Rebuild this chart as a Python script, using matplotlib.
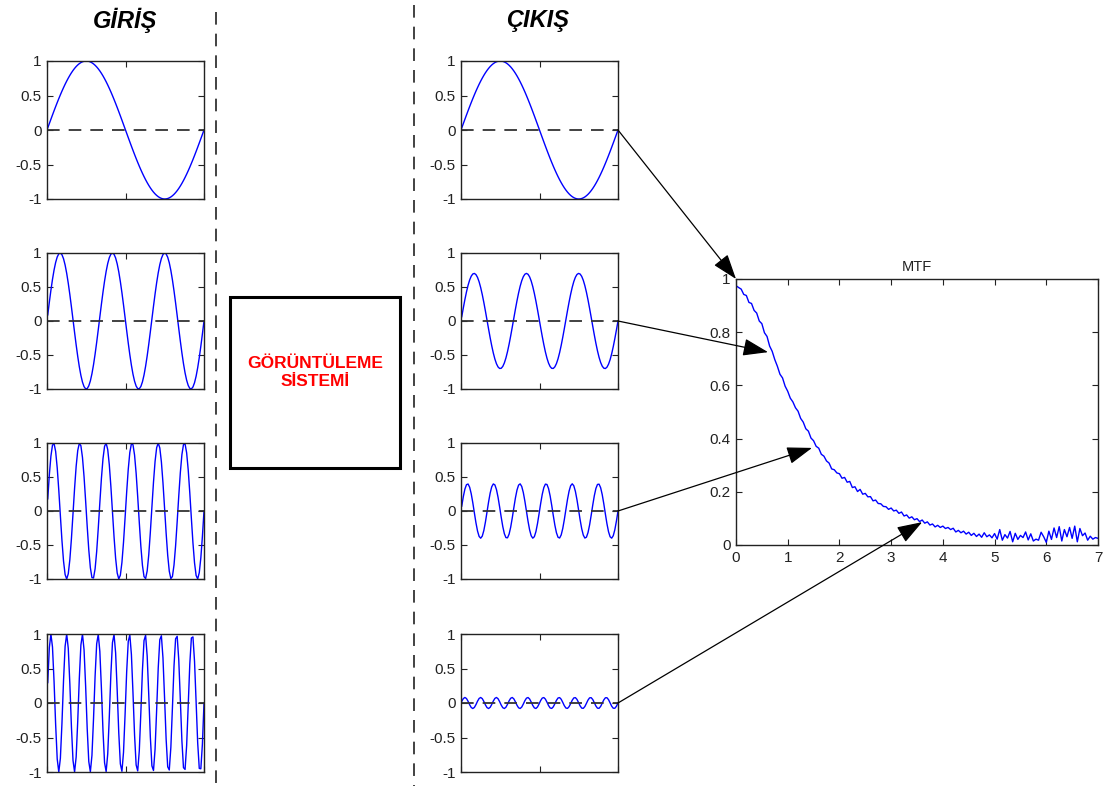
import numpy as np
import matplotlib
matplotlib.use("Agg")
import matplotlib.pyplot as plt
from matplotlib.patches import ConnectionPatch, Rectangle
from matplotlib.lines import Line2D

plt.rcParams['font.family'] = ['Liberation Sans', 'DejaVu Sans']

# ---- data ----
cycles = [1, 3, 6, 10]                 # input sine frequencies (cycles per panel)
in_amp = [1.0, 1.0, 1.0, 1.0]
out_amp = [1.0, 0.7, 0.4, 0.08]        # output amplitudes
ytick_vals = [-1, -0.5, 0, 0.5, 1]
ytick_labels = ['-1', '-0.5', '0', '0.5', '1']

mtf_x = np.round(np.arange(0, 7.0001, 0.05), 2)
mtf_y = [
    0.975, 0.968, 0.962, 0.942, 0.938, 0.912, 0.908, 0.882, 0.872, 0.842,
    0.832, 0.798, 0.784, 0.748, 0.728, 0.697, 0.672, 0.642, 0.628, 0.597,
    0.578, 0.552, 0.538, 0.516, 0.503, 0.476, 0.462, 0.437, 0.428, 0.402,
    0.392, 0.371, 0.364, 0.341, 0.334, 0.316, 0.308, 0.286, 0.283, 0.271,
    0.268, 0.251, 0.254, 0.236, 0.239, 0.216, 0.219, 0.201, 0.209, 0.191,
    0.194, 0.181, 0.182, 0.166, 0.169, 0.156, 0.155, 0.145, 0.144, 0.134,
    0.139, 0.128, 0.131, 0.119, 0.124, 0.109, 0.113, 0.101, 0.106, 0.095,
    0.099, 0.088, 0.094, 0.082, 0.087, 0.075, 0.079, 0.068, 0.074, 0.066,
    0.071, 0.062, 0.066, 0.058, 0.063, 0.049, 0.055, 0.046, 0.052, 0.041,
    0.048, 0.036, 0.044, 0.032, 0.041, 0.029, 0.046, 0.031, 0.038, 0.027,
    0.043, 0.022, 0.058, 0.018, 0.039, 0.026, 0.051, 0.012, 0.044, 0.021,
    0.036, 0.028, 0.049, 0.019, 0.042, 0.015, 0.022, 0.018, 0.048, 0.031,
    0.010, 0.052, 0.021, 0.064, 0.028, 0.069, 0.015, 0.058, 0.031, 0.066,
    0.025, 0.071, 0.012, 0.062, 0.035, 0.045, 0.018, 0.033, 0.022, 0.028,
    0.025,
]
mtf_xticks = [0, 1, 2, 3, 4, 5, 6, 7]
mtf_yticks = [0, 0.2, 0.4, 0.6, 0.8, 1]
mtf_yticklabels = ['0', '0.2', '0.4', '0.6', '0.8', '1']
# arrow targets on the MTF curve (frequency, value)
arrow_fx = [0.0, 0.62, 1.47, 3.6]
arrow_fy = [1.0, 0.725, 0.365, 0.086]

W, H = 1109, 794
fig = plt.figure(figsize=(W / 100, H / 100), dpi=100)
fig.patch.set_facecolor('white')


def px_axes(x0, y0, x1, y1):
    return fig.add_axes([x0 / W, 1 - y1 / H, (x1 - x0) / W, (y1 - y0) / H])


BLUE = '#0000ff'


def style(ax):
    ax.tick_params(direction='in', top=True, right=True, length=4,
                   labelsize=11, colors='#222222', width=0.8, pad=4)
    for s in ax.spines.values():
        s.set_linewidth(1.0)
        s.set_color('#222222')


rows = [(61, 199), (253, 389), (443, 579), (634, 772)]
left_x = (47, 204)
right_x = (461, 618)

N = 100
out_axes = []
for i, (y0, y1) in enumerate(rows):
    for (x0, x1), amps in ((left_x, in_amp), (right_x, out_amp)):
        ax = px_axes(x0, y0, x1, y1)
        t = np.linspace(0.03, 2 * np.pi, N)
        ax.plot(t, amps[i] * np.sin(cycles[i] * t), color=BLUE, lw=1.0)
        ax.axhline(0, color='#333333', lw=1.3, ls=(0, (7, 5)))
        ax.set_xlim(0, 2 * np.pi)
        ax.set_ylim(-1, 1)
        ax.set_yticks(ytick_vals)
        ax.set_yticklabels(ytick_labels)
        ax.set_xticks([0, np.pi, 2 * np.pi])
        ax.set_xticklabels([])
        style(ax)
        if (x0, x1) == right_x:
            out_axes.append(ax)

# MTF axes
mx = px_axes(736, 279, 1098, 545)
mx.plot(mtf_x, mtf_y, color=BLUE, lw=1.0)
mx.set_xlim(0, 7)
mx.set_ylim(0, 1)
mx.set_xticks(mtf_xticks)
mx.set_yticks(mtf_yticks)
mx.set_yticklabels(mtf_yticklabels)
style(mx)
mx.set_title('MTF', fontsize=10.5, color='#222222', pad=6)

# Titles
fig.text(125 / W, 1 - 20 / H, 'GİRİŞ', ha='center', va='center',
         fontsize=17, fontweight='bold', fontstyle='italic')
fig.text(538 / W, 1 - 20 / H, 'ÇIKIŞ', ha='center', va='center',
         fontsize=17, fontweight='bold', fontstyle='italic')

# dashed separators
for xs, ya, yb in ((216, 12, 792), (414, 5, 786)):
    fig.add_artist(Line2D([xs / W, xs / W], [1 - ya / H, 1 - yb / H],
                          transform=fig.transFigure, color='#333333',
                          lw=1.3, ls=(0, (7, 5))))

# imaging system box
fig.add_artist(Rectangle((230 / W, 1 - 468 / H), 170 / W, 171 / H,
                         transform=fig.transFigure, fill=False,
                         ec='black', lw=2.2))
fig.text(315 / W, 1 - 373 / H, 'GÖRÜNTÜLEME\nSİSTEMİ', ha='center',
         va='center', color='#ff0000', fontsize=12.5, fontweight='bold',
         linespacing=1.25)

# arrows from outputs to the MTF curve
for ax, fx, fy in zip(out_axes, arrow_fx, arrow_fy):
    cp = ConnectionPatch(xyA=(2 * np.pi, 0), coordsA=ax.transData,
                         xyB=(fx, fy), coordsB=mx.transData,
                         arrowstyle='-|>,head_length=1.3,head_width=0.45',
                         color='black', lw=0.9, mutation_scale=12,
                         shrinkA=0, shrinkB=0)
    fig.add_artist(cp)

fig.savefig('out.png', dpi=100, facecolor='white')
